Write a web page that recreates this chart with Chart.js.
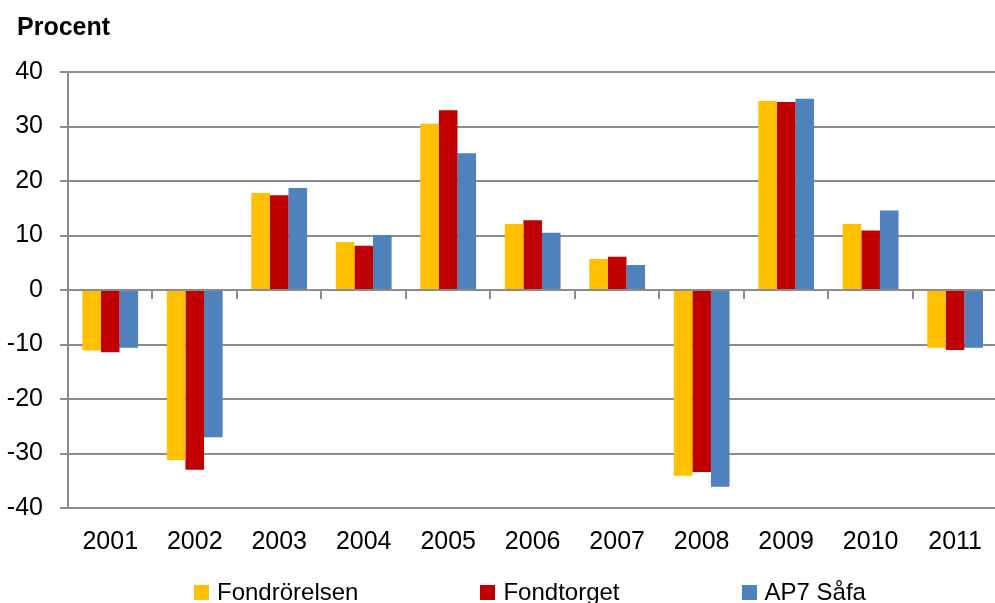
<!DOCTYPE html>
<html>
<head>
<meta charset="utf-8">
<script src="https://cdn.jsdelivr.net/npm/chart.js@4/dist/chart.umd.min.js"></script>
<style>
  html, body { margin: 0; padding: 0; background: #fff; overflow: hidden; }
  #wrap { position: relative; width: 995px; height: 603px; overflow: hidden; }
  #chart { position: absolute; left: 0; top: 0; }
  #title {
    position: absolute; left: 17px; top: 14px;
    font: bold 25px/25px "Liberation Sans", Arial, sans-serif; color: #000;
  }
  #legend {
    position: absolute; left: 194px; top: 580px;
    display: flex; align-items: center;
    font: 24px/24px "Liberation Sans", Arial, sans-serif; color: #000;
    white-space: nowrap;
  }
  #legend .item { display: flex; align-items: center; margin-right: 122px; }
  #legend .box { width: 15px; height: 15px; margin-right: 8px; }
</style>
</head>
<body>
<div id="wrap">
  <canvas id="chart" width="1001" height="603"></canvas>
  <div id="title">Procent</div>
  <div id="legend"></div>
</div>
<script>
// Annual returns, percent
const years = ['2001', '2002', '2003', '2004', '2005', '2006', '2007', '2008', '2009', '2010', '2011'];
const fondrorelsen = [-11.1, -31.2, 17.8, 8.8, 30.5, 12.1, 5.7, -34.1, 34.7, 12.1, -10.6];
const fondtorget   = [-11.4, -33.0, 17.4, 8.1, 33.0, 12.8, 6.1, -33.4, 34.5, 10.9, -11.0];
const ap7Safa      = [-10.6, -27.0, 18.7, 10.1, 25.1, 10.5, 4.6, -36.1, 35.1, 14.6, -10.6];
const yTicks = [-40, -30, -20, -10, 0, 10, 20, 30, 40];

const seriesNames = ['Fondrörelsen', 'Fondtorget', 'AP7 Såfa'];
const seriesColors = ['#FFC000', '#C00000', '#4F81BD'];
const seriesValues = [fondrorelsen, fondtorget, ap7Safa];

const gridGray = '#8c8c8c';
const font = { family: '"Liberation Sans", Arial, sans-serif', size: 25 };

const datasets = seriesNames.map((name, i) => ({
  label: name,
  data: seriesValues[i],
  backgroundColor: seriesColors[i],
  borderWidth: 0,
  barPercentage: 1.0,
  categoryPercentage: 0.66
}));

new Chart(document.getElementById('chart'), {
  type: 'bar',
  data: { labels: years, datasets },
  options: {
    responsive: false,
    animation: false,
    layout: { padding: { top: 72, right: 0, bottom: 0, left: 0 } },
    plugins: { legend: { display: false }, tooltip: { enabled: false } },
    scales: {
      x: {
        position: 'bottom',
        grid: { display: false, drawTicks: false },
        border: { display: false },
        ticks: { color: '#000', font, padding: 19, maxRotation: 0, autoSkip: false },
        afterFit(scale) { scale.height = 95; }
      },
      // category divisions along the zero line
      xZero: {
        type: 'category',
        position: { y: 0 },
        z: 1,
        grid: {
          offset: true, drawOnChartArea: false, drawTicks: true,
          tickLength: 8, color: gridGray, lineWidth: 2
        },
        border: { display: true, color: gridGray, width: 2 },
        ticks: { display: false }
      },
      y: {
        min: -40, max: 40,
        afterBuildTicks(scale) { scale.ticks = yTicks.map(v => ({ value: v })); },
        grid: { color: gridGray, lineWidth: 2, drawTicks: true, tickLength: 8 },
        border: { display: true, color: gridGray, width: 2 },
        ticks: { color: '#000', font, padding: 17 },
        afterFit(scale) { scale.width = 68; }
      }
    }
  }
});

// Legend built from the series names and colours
const legend = document.getElementById('legend');
seriesNames.forEach((name, i) => {
  const item = document.createElement('div');
  item.className = 'item';
  const box = document.createElement('span');
  box.className = 'box';
  box.style.background = seriesColors[i];
  const text = document.createElement('span');
  text.textContent = name;
  item.appendChild(box);
  item.appendChild(text);
  legend.appendChild(item);
});
</script>
</body>
</html>
